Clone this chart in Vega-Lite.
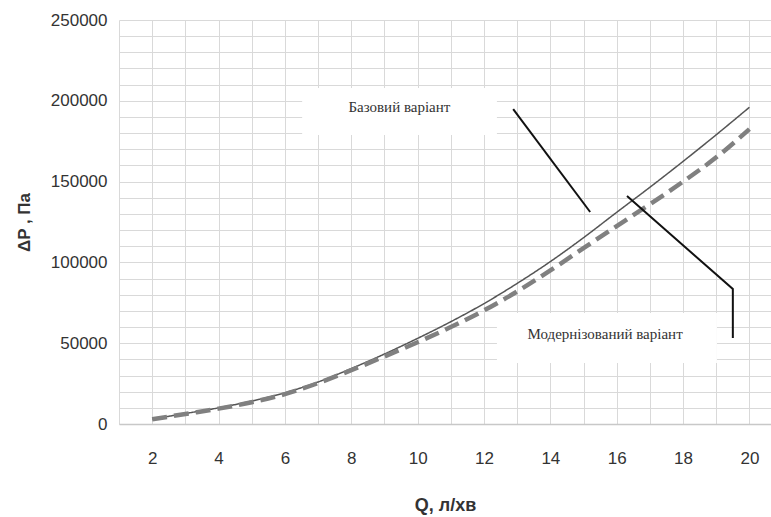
{
  "$schema": "https://vega.github.io/schema/vega-lite/v6.json",
  "width": 652,
  "height": 404,
  "autosize": {"type": "none"},
  "padding": {"left": 119, "top": 20, "right": 0, "bottom": 93},
  "background": "white",
  "config": {
    "view": {"stroke": null},
    "font": "Liberation Sans"
  },
  "datasets": {
    "curves": [
      {"Q": 2, "P": 3100, "variant": "Базовий варіант"},
      {"Q": 3, "P": 6500, "variant": "Базовий варіант"},
      {"Q": 4, "P": 10000, "variant": "Базовий варіант"},
      {"Q": 5, "P": 14200, "variant": "Базовий варіант"},
      {"Q": 6, "P": 19300, "variant": "Базовий варіант"},
      {"Q": 7, "P": 26000, "variant": "Базовий варіант"},
      {"Q": 8, "P": 34300, "variant": "Базовий варіант"},
      {"Q": 9, "P": 43300, "variant": "Базовий варіант"},
      {"Q": 10, "P": 53000, "variant": "Базовий варіант"},
      {"Q": 11, "P": 63300, "variant": "Базовий варіант"},
      {"Q": 12, "P": 74500, "variant": "Базовий варіант"},
      {"Q": 13, "P": 87000, "variant": "Базовий варіант"},
      {"Q": 14, "P": 100500, "variant": "Базовий варіант"},
      {"Q": 15, "P": 115300, "variant": "Базовий варіант"},
      {"Q": 16, "P": 131000, "variant": "Базовий варіант"},
      {"Q": 17, "P": 146500, "variant": "Базовий варіант"},
      {"Q": 18, "P": 162500, "variant": "Базовий варіант"},
      {"Q": 19, "P": 179000, "variant": "Базовий варіант"},
      {"Q": 20, "P": 196000, "variant": "Базовий варіант"},
      {"Q": 2, "P": 2900, "variant": "Модернізований варіант"},
      {"Q": 3, "P": 6200, "variant": "Модернізований варіант"},
      {"Q": 4, "P": 9500, "variant": "Модернізований варіант"},
      {"Q": 5, "P": 13500, "variant": "Модернізований варіант"},
      {"Q": 6, "P": 18500, "variant": "Модернізований варіант"},
      {"Q": 7, "P": 25300, "variant": "Модернізований варіант"},
      {"Q": 8, "P": 33300, "variant": "Модернізований варіант"},
      {"Q": 9, "P": 41800, "variant": "Модернізований варіант"},
      {"Q": 10, "P": 50600, "variant": "Модернізований варіант"},
      {"Q": 11, "P": 60000, "variant": "Модернізований варіант"},
      {"Q": 12, "P": 70300, "variant": "Модернізований варіант"},
      {"Q": 13, "P": 82000, "variant": "Модернізований варіант"},
      {"Q": 14, "P": 95000, "variant": "Модернізований варіант"},
      {"Q": 15, "P": 108800, "variant": "Модернізований варіант"},
      {"Q": 16, "P": 122500, "variant": "Модернізований варіант"},
      {"Q": 17, "P": 136000, "variant": "Модернізований варіант"},
      {"Q": 18, "P": 150000, "variant": "Модернізований варіант"},
      {"Q": 19, "P": 165000, "variant": "Модернізований варіант"},
      {"Q": 20, "P": 182500, "variant": "Модернізований варіант"}
    ],
    "boxes": [
      {"Q": 6.52, "Q2": 12.39, "P": 207900, "P2": 178800},
      {"Q": 12.39, "Q2": 19.02, "P": 68700, "P2": 37750}
    ],
    "callouts": [
      {"id": "a", "k": 1, "Q": 12.88, "P": 194900},
      {"id": "a", "k": 2, "Q": 15.2, "P": 131200},
      {"id": "b", "k": 1, "Q": 16.31, "P": 141100},
      {"id": "b", "k": 2, "Q": 19.5, "P": 83500},
      {"id": "b", "k": 3, "Q": 19.5, "P": 53200}
    ],
    "labels": [
      {"Q": 9.45, "P": 196200, "text": "Базовий варіант"},
      {"Q": 15.65, "P": 55700, "text": "Модернізований варіант"}
    ]
  },
  "encoding": {
    "x": {
      "field": "Q",
      "type": "quantitative",
      "scale": {"domain": [1, 20.65], "nice": false, "zero": false},
      "axis": {
        "values": [1, 2, 3, 4, 5, 6, 7, 8, 9, 10, 11, 12, 13, 14, 15, 16, 17, 18, 19, 20],
        "labelExpr": "datum.value % 2 == 0 ? format(datum.value, 'd') : ''",
        "grid": true,
        "gridColor": "#d9d9d9",
        "gridWidth": 1,
        "ticks": false,
        "domain": true,
        "domainColor": "#c8c8c8",
        "domainWidth": 1.5,
        "labelFont": "Liberation Sans",
        "labelFontSize": 17,
        "labelColor": "#333333",
        "labelPadding": 26,
        "labelFlush": false,
        "labelOverlap": false,
        "title": "Q, л/хв",
        "titleFont": "Liberation Sans",
        "titleFontSize": 18,
        "titleFontWeight": "bold",
        "titleColor": "#333333",
        "titlePadding": 30,
        "titleX": 326
      }
    },
    "y": {
      "field": "P",
      "type": "quantitative",
      "scale": {"domain": [0, 250000], "nice": false},
      "axis": {
        "values": [0, 10000, 20000, 30000, 40000, 50000, 60000, 70000, 80000, 90000, 100000, 110000, 120000, 130000, 140000, 150000, 160000, 170000, 180000, 190000, 200000, 210000, 220000, 230000, 240000, 250000],
        "labelExpr": "datum.value % 50000 == 0 ? format(datum.value, 'd') : ''",
        "grid": true,
        "gridColor": "#d9d9d9",
        "gridWidth": 1,
        "ticks": false,
        "domain": false,
        "labelFont": "Liberation Sans",
        "labelFontSize": 17,
        "labelColor": "#333333",
        "labelPadding": 12,
        "labelOverlap": false,
        "title": "ΔP , Па",
        "titleFont": "Liberation Sans",
        "titleFontSize": 17,
        "titleFontWeight": "bold",
        "titleColor": "#333333",
        "titleAngle": -90,
        "titleX": -95,
        "titleY": 202,
        "titleAlign": "center",
        "titleBaseline": "middle"
      }
    }
  },
  "layer": [
    {
      "data": {"name": "boxes"},
      "mark": {"type": "rect", "fill": "white", "stroke": null},
      "encoding": {
        "x2": {"field": "Q2"},
        "y2": {"field": "P2"}
      }
    },
    {
      "data": {"name": "curves"},
      "mark": {"type": "line", "interpolate": "monotone"},
      "encoding": {
        "detail": {"field": "variant"},
        "color": {
          "field": "variant",
          "type": "nominal",
          "scale": {"domain": ["Базовий варіант", "Модернізований варіант"], "range": ["#555555", "#808080"]},
          "legend": null
        },
        "strokeWidth": {
          "field": "variant",
          "type": "nominal",
          "scale": {"domain": ["Базовий варіант", "Модернізований варіант"], "range": [1.5, 4.5]},
          "legend": null
        },
        "strokeDash": {
          "field": "variant",
          "type": "nominal",
          "scale": {"domain": ["Базовий варіант", "Модернізований варіант"], "range": [[1, 0], [15, 7]]},
          "legend": null
        }
      }
    },
    {
      "data": {"name": "callouts"},
      "mark": {"type": "line", "color": "#111111", "strokeWidth": 2},
      "encoding": {
        "detail": {"field": "id"},
        "order": {"field": "k", "type": "quantitative"}
      }
    },
    {
      "data": {"name": "labels"},
      "mark": {"type": "text", "font": "Liberation Serif", "fontSize": 15, "color": "#333333", "align": "center", "baseline": "middle"},
      "encoding": {
        "text": {"field": "text"}
      }
    }
  ]
}
